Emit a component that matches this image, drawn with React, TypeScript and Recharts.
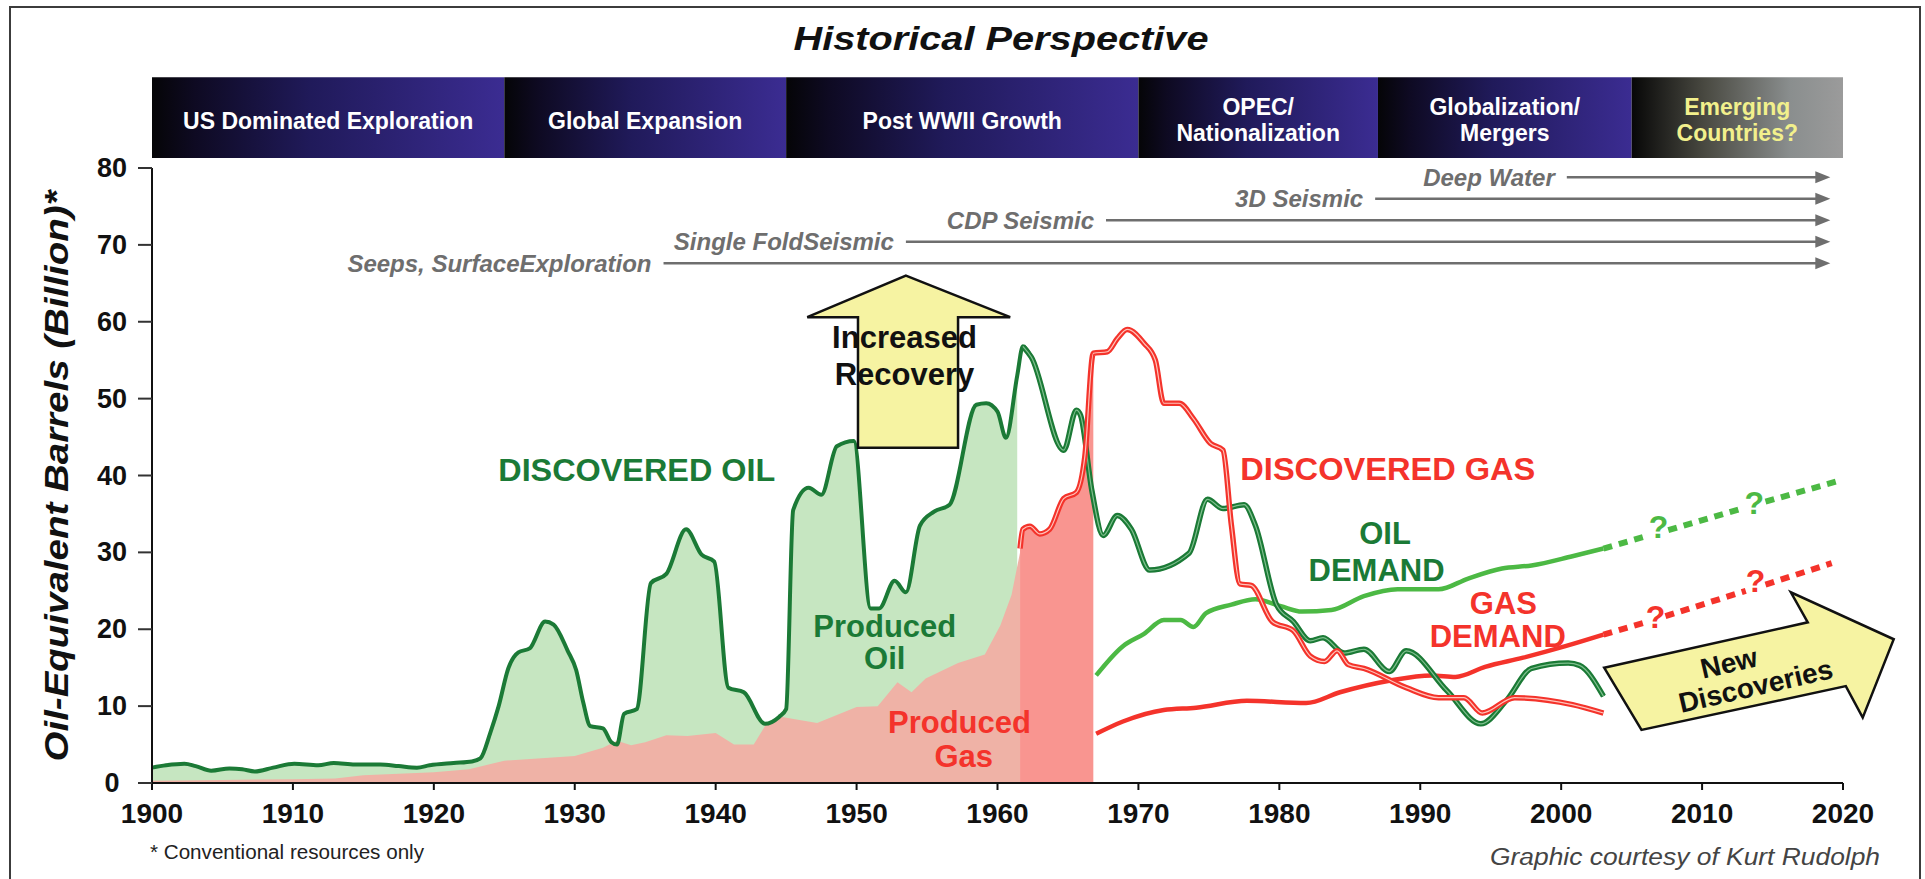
import React from 'react'
import {
  ComposedChart,
  Area,
  Line,
  XAxis,
  YAxis,
  ReferenceArea,
  ReferenceLine,
  ReferenceDot,
} from 'recharts'

type Pt = [number, number | null]

// billion barrels oil-equivalent
const discoveredOil: Pt[] = [
  [1900, 2.0], [1901, 2.3], [1902.3, 2.5], [1903.1, 2.2], [1904.2, 1.6], [1905.5, 1.9],
  [1906.4, 1.8], [1907.3, 1.5], [1908.6, 2.0], [1910.1, 2.5], [1911.8, 2.3], [1912.9, 2.6],
  [1914.4, 2.4], [1916.2, 2.4], [1917.5, 2.2], [1918.8, 2.0], [1919.7, 2.3], [1921.4, 2.6],
  [1922.7, 2.8], [1923.3, 3.2], [1924.0, 6.5], [1924.6, 10.0], [1925.3, 15.0], [1926.0, 17.0],
  [1926.8, 17.5], [1927.9, 21.0], [1928.5, 20.6], [1929.5, 17.2], [1930.1, 14.7], [1930.6, 10.5],
  [1931.1, 7.4], [1932.0, 7.1], [1932.6, 5.3], [1933.0, 5.0], [1933.5, 9.0], [1934.4, 9.6],
  [1935.4, 26.0], [1936.5, 27.2], [1937.9, 33.0], [1939.0, 29.7], [1939.9, 28.8], [1940.9, 12.4],
  [1942.0, 11.8], [1943.5, 7.7], [1944.5, 8.6], [1945.0, 9.6], [1945.5, 35.5], [1946.6, 38.4],
  [1947.5, 37.5], [1948.6, 43.8], [1949.8, 44.5], [1951.0, 22.7], [1951.6, 22.7], [1952.7, 26.3],
  [1953.5, 24.8], [1954.5, 33.5], [1955.5, 35.3], [1956.6, 36.2], [1958.5, 49.2], [1959.2, 49.4],
  [1960.0, 48.3], [1960.6, 44.9], [1961.4, 53.0], [1961.8, 56.8], [1962.4, 55.4], [1964.7, 43.3],
  [1965.6, 48.5], [1965.9, 47.8], [1966.7, 38.0], [1967.5, 32.2], [1968.5, 34.8], [1969.5, 33.0],
  [1970.8, 27.7], [1973.6, 29.9], [1974.9, 36.9], [1976.0, 35.7], [1977.5, 36.2], [1978.3, 33.5],
  [1979.8, 23.2], [1981.0, 21.0], [1982.2, 18.5], [1983.1, 18.9], [1984.6, 16.9], [1986.0, 17.4],
  [1987.8, 14.5], [1989.0, 17.2], [1991.9, 12.0], [1994.3, 7.7], [1996.1, 10.7], [1997.9, 14.9],
  [2000.5, 15.6], [2001.3, 15.3], [2003.0, 11.3],
]

const producedGas: Pt[] = [
  [1900, 0.3], [1905, 0.4], [1910, 0.5], [1913, 0.6], [1915, 1.0], [1920, 1.4], [1922.5, 1.8],
  [1925, 2.9], [1930, 3.5], [1932, 4.6], [1933, 5.5], [1934, 4.9], [1935, 5.3], [1936.5, 6.2],
  [1938, 6.1], [1940, 6.5], [1941.3, 5.0], [1942.7, 5.0], [1943.6, 7.7], [1944.7, 8.6],
  [1947.2, 7.8], [1950, 9.9], [1951.5, 10.0], [1952.9, 13.1], [1953.9, 11.8], [1954.9, 13.6],
  [1957.2, 15.6], [1959.1, 16.7], [1960.2, 20.5], [1961.0, 24.5], [1961.6, 30.0],
]

const discoveredGas: Pt[] = [
  [1961.6, 30.5], [1961.8, 33.0], [1962.3, 33.4], [1963.0, 32.4], [1963.7, 33.0], [1964.7, 37.0],
  [1965.6, 37.8], [1966.2, 42.5], [1966.8, 55.9], [1967.8, 56.1], [1968.5, 57.8], [1969.2, 59.0],
  [1970.4, 57.2], [1971.2, 55.0], [1971.8, 49.4], [1972.9, 49.4], [1973.9, 47.4], [1975.1, 44.2],
  [1976.0, 43.3], [1976.6, 33.5], [1977.2, 25.9], [1978.0, 25.7], [1979.5, 21.0], [1981.0, 19.8],
  [1982.2, 16.5], [1983.2, 15.8], [1984.1, 17.2], [1984.9, 15.4], [1986.0, 14.9], [1989.0, 12.4],
  [1991.3, 11.1], [1993.1, 11.1], [1994.4, 9.1], [1996.7, 11.1], [2000.8, 10.2], [2003.0, 9.1],
]

const oilDemand: Pt[] = [
  [1967.0, 14.0], [1968.9, 17.8], [1970.4, 19.4], [1971.8, 21.2], [1973.0, 21.2], [1973.9, 20.3],
  [1974.8, 22.1], [1976.6, 23.2], [1978.3, 23.9], [1980.1, 23.0], [1981.6, 22.3], [1983.7, 22.5],
  [1986.0, 24.3], [1988.4, 25.2], [1991.3, 25.2], [1993.4, 26.6], [1995.8, 27.9], [1997.9, 28.3],
  [2000.8, 29.5], [2003.0, 30.5],
]

const gasDemand: Pt[] = [
  [1967.0, 6.4], [1968.9, 8.0], [1971.8, 9.5], [1974.1, 9.8], [1977.7, 10.7], [1981.9, 10.4],
  [1984.3, 11.8], [1987.8, 13.3], [1990.8, 14.0], [1992.5, 13.8], [1994.6, 15.1], [1997.3, 16.3],
  [2000.3, 17.8], [2003.0, 19.3],
]

// dotted outlook, broken where the question marks sit
const oilOutlook: Pt[] = [
  [2003.0, 30.5], [2006.2, 32.2], [2006.9, null], [2007.6, 32.9], [2013.0, 35.8],
  [2013.7, null], [2014.5, 36.6], [2019.5, 39.2],
]
const gasOutlook: Pt[] = [
  [2003.0, 19.3], [2006.0, 20.9], [2006.7, null], [2007.4, 21.7], [2013.1, 25.0],
  [2013.8, null], [2014.5, 25.8], [2019.2, 28.6],
]
const oilQuestions: Pt[] = [[2006.9, 33.3], [2013.7, 36.4]]
const gasQuestions: Pt[] = [[2006.7, 21.6], [2013.8, 26.3]]

const yearTicks = [1900, 1910, 1920, 1930, 1940, 1950, 1960, 1970, 1980, 1990, 2000, 2010, 2020]
const valueTicks = [0, 10, 20, 30, 40, 50, 60, 70, 80]

const eraNames = [
  ['US Dominated Exploration'],
  ['Global Expansion'],
  ['Post WWII Growth'],
  ['OPEC/', 'Nationalization'],
  ['Globalization/', 'Mergers'],
  ['Emerging', 'Countries?'],
]
const eraStarts = [1900, 1925, 1945, 1970, 1987, 2005]
const eraEnds = [1925, 1945, 1970, 1987, 2005, 2020]

const techNames = ['Seeps, SurfaceExploration', 'Single FoldSeismic', 'CDP Seismic', '3D Seismic', 'Deep Water']
const techStarts = [1936.3, 1953.5, 1967.7, 1986.8, 2000.4]

const FONT = '"Liberation Sans", Arial, Helvetica, sans-serif'
const DARK_GREEN = '#1b7a36'
const LIGHT_GREEN = '#4cb944'
const RED = '#f4332b'
const YELLOW = '#f6f3a2'

// plot box: 1691 px for 120 years, 615 px for 80 units
const PX_YEAR = 1691 / 120
const PX_UNIT = 615 / 80

const rows = (pts: Pt[]) => pts.map(([year, v]) => ({ year, v }))

const recoveryArrow: Pt[] = [
  [1953.5, 66.0], [1960.9, 60.6], [1957.2, 60.6], [1957.2, 43.6],
  [1950.1, 43.6], [1950.1, 60.6], [1946.5, 60.6],
]
const discoveriesArrow: Pt[] = [
  [2003.05, 15.0], [2017.5, 20.9], [2016.3, 24.8], [2023.6, 18.7],
  [2021.4, 8.5], [2020.2, 12.6], [2005.7, 6.9],
]

const polygonAt = (key: string, pts: Pt[]) => {
  const [ax, ay] = pts[0] as [number, number]
  return (
    <ReferenceDot
      key={key}
      x={ax}
      y={ay}
      r={0}
      ifOverflow="visible"
      shape={(p: any) => (
        <polygon
          points={pts
            .map(([x, y]) => `${p.cx + (x - ax) * PX_YEAR},${p.cy - ((y as number) - ay) * PX_UNIT}`)
            .join(' ')}
          fill={YELLOW}
          stroke="#111"
          strokeWidth={2.5}
        />
      )}
    />
  )
}

interface NoteStyle {
  size: number
  color: string
  italic?: boolean
  anchor?: 'start' | 'middle' | 'end'
  dx?: number
  rotate?: number
  len?: number
}

const note = (key: string, x: number, y: number, text: string, s: NoteStyle) => (
  <ReferenceDot
    key={key}
    x={x}
    y={y}
    r={0}
    ifOverflow="visible"
    shape={(p: any) => (
      <text
        x={p.cx + (s.dx ?? 0)}
        y={p.cy}
        textAnchor={s.anchor ?? 'middle'}
        dominantBaseline="central"
        fontFamily={FONT}
        fontSize={s.size}
        fontWeight="bold"
        fontStyle={s.italic ? 'italic' : 'normal'}
        fill={s.color}
        textLength={s.len}
        lengthAdjust={s.len ? 'spacingAndGlyphs' : undefined}
        transform={s.rotate ? `rotate(${s.rotate} ${p.cx} ${p.cy})` : undefined}
      >
        {text}
      </text>
    )}
  />
)

const arrowHead = (key: string, x: number, y: number) => (
  <ReferenceDot
    key={key}
    x={x}
    y={y}
    r={0}
    ifOverflow="visible"
    shape={(p: any) => (
      <polygon
        points={`${p.cx - 15},${p.cy - 6} ${p.cx},${p.cy} ${p.cx - 15},${p.cy + 6}`}
        fill="#6e6e6e"
      />
    )}
  />
)

const YearTick = (p: any) => (
  <text x={p.x} y={p.y + 31} textAnchor="middle" fontFamily={FONT} fontSize={28} fontWeight="bold" fill="#111">
    {p.payload.value}
  </text>
)

const ValueTick = (p: any) => (
  <text x={p.x - 24} y={p.y + 9} textAnchor="middle" fontFamily={FONT} fontSize={27} fontWeight="bold" fill="#111">
    {p.payload.value}
  </text>
)

export default function App() {
  const oilFill = rows(discoveredOil.filter(([y]) => y <= 1961.4))
  const gasFill = rows(discoveredGas.filter(([y]) => y <= 1966.8))
  const oilLate = rows(discoveredOil.filter(([y]) => y >= 1961.8))

  return (
    <div style={{ position: 'relative', width: 1925, height: 879, overflow: 'hidden', background: '#fff' }}>
      <style>{'body{margin:0;overflow:hidden}'}</style>
      <div
        style={{
          position: 'absolute',
          left: 9,
          top: 6,
          width: 1908,
          height: 1000,
          border: '2px solid #3c3c3c',
        }}
      />
      <div style={{ position: 'absolute', left: 0, top: 0 }}>
        <ComposedChart width={1925} height={879} margin={{ top: 168, right: 82, bottom: 56, left: 92 }}>
          <defs>
            <linearGradient id="eraPurple" x1="0" y1="0" x2="1" y2="0">
              <stop offset="0%" stopColor="#050507" />
              <stop offset="12%" stopColor="#0e0a22" />
              <stop offset="45%" stopColor="#201a5a" />
              <stop offset="100%" stopColor="#3b2c92" />
            </linearGradient>
            <linearGradient id="eraGrey" x1="0" y1="0" x2="1" y2="0">
              <stop offset="0%" stopColor="#070707" />
              <stop offset="35%" stopColor="#4a4a42" />
              <stop offset="75%" stopColor="#8a8e8e" />
              <stop offset="100%" stopColor="#9b9b9b" />
            </linearGradient>
          </defs>

          <XAxis
            type="number"
            dataKey="year"
            domain={[1900, 2020]}
            ticks={yearTicks}
            interval={0}
            height={40}
            tickSize={7}
            tick={<YearTick />}
            axisLine={{ stroke: '#111', strokeWidth: 2 }}
            tickLine={{ stroke: '#111', strokeWidth: 2 }}
          />
          <YAxis
            type="number"
            domain={[0, 80]}
            ticks={valueTicks}
            interval={0}
            width={60}
            tickSize={14}
            tick={<ValueTick />}
            axisLine={{ stroke: '#111', strokeWidth: 2 }}
            tickLine={{ stroke: '#333', strokeWidth: 2 }}
          />

          {eraStarts.map((from, i) => (
            <ReferenceArea
              key={`era${i}`}
              x1={from}
              x2={eraEnds[i]}
              y1={81.3}
              y2={91.8}
              ifOverflow="visible"
              fill={i === 5 ? 'url(#eraGrey)' : 'url(#eraPurple)'}
              fillOpacity={1}
              stroke="none"
            />
          ))}

          <Area data={oilFill} dataKey="v" type="monotone" stroke="none" fill="#c6e6c1" fillOpacity={1} isAnimationActive={false} />
          <Area data={rows(producedGas)} dataKey="v" type="linear" stroke="none" fill="#efb2a6" fillOpacity={1} isAnimationActive={false} />
          <Area data={gasFill} dataKey="v" type="monotone" stroke="none" fill="#f99590" fillOpacity={1} isAnimationActive={false} />

          <Line data={rows(oilDemand)} dataKey="v" type="monotone" stroke={LIGHT_GREEN} strokeWidth={4.5} dot={false} isAnimationActive={false} />
          <Line data={rows(gasDemand)} dataKey="v" type="monotone" stroke={RED} strokeWidth={4.5} dot={false} isAnimationActive={false} />
          <Line data={rows(oilOutlook)} dataKey="v" type="linear" stroke={LIGHT_GREEN} strokeWidth={6} strokeDasharray="9 7" dot={false} isAnimationActive={false} />
          <Line data={rows(gasOutlook)} dataKey="v" type="linear" stroke={RED} strokeWidth={6} strokeDasharray="9 7" dot={false} isAnimationActive={false} />

          <Line data={rows(discoveredOil)} dataKey="v" type="monotone" stroke={DARK_GREEN} strokeWidth={4} dot={false} isAnimationActive={false} />
          <Line data={oilLate} dataKey="v" type="monotone" stroke={DARK_GREEN} strokeWidth={5.5} dot={false} isAnimationActive={false} />
          <Line data={oilLate} dataKey="v" type="monotone" stroke="#7fc08e" strokeWidth={1.2} dot={false} isAnimationActive={false} />
          <Line data={rows(discoveredGas)} dataKey="v" type="monotone" stroke={RED} strokeWidth={5.5} dot={false} isAnimationActive={false} />
          <Line data={rows(discoveredGas)} dataKey="v" type="monotone" stroke="#ffc4bb" strokeWidth={1.2} dot={false} isAnimationActive={false} />

          {techStarts.map((from, i) => (
            <ReferenceLine
              key={`tech${i}`}
              segment={[{ x: from, y: 67.6 + i * 2.8 }, { x: 2018.2, y: 67.6 + i * 2.8 }]}
              stroke="#6e6e6e"
              strokeWidth={2.5}
              ifOverflow="visible"
            />
          ))}
          {techStarts.map((_, i) => arrowHead(`head${i}`, 2019.1, 67.6 + i * 2.8))}
          {techStarts.map((from, i) =>
            note(`techLabel${i}`, from, 67.6 + i * 2.8, techNames[i], {
              size: 24,
              color: '#6e6e6e',
              italic: true,
              anchor: 'end',
              dx: -12,
            }),
          )}

          {eraStarts.map((from, i) => {
            const names = eraNames[i]
            const mid = (from + eraEnds[i]) / 2
            const color = i === 5 ? '#f2f08c' : '#ffffff'
            return names.length === 1
              ? note(`eraLabel${i}`, mid, 86.1, names[0], { size: 23, color })
              : names.map((n, j) =>
                  note(`eraLabel${i}_${j}`, mid, 87.9 - j * 3.4, n, { size: 23, color }),
                )
          })}

          {polygonAt('recovery', recoveryArrow)}
          {polygonAt('discoveries', discoveriesArrow)}

          {note('incr', 1953.4, 57.9, 'Increased', { size: 31, color: '#111' })}
          {note('reco', 1953.4, 53.2, 'Recovery', { size: 31, color: '#111' })}
          {note('newd', 2011.9, 15.6, 'New', { size: 28, color: '#111', rotate: -13 })}
          {note('disc', 2013.8, 12.6, 'Discoveries', { size: 28, color: '#111', rotate: -13 })}

          {note('dOil', 1934.4, 40.7, 'DISCOVERED OIL', { size: 31, color: DARK_GREEN, len: 277 })}
          {note('pOil1', 1952.0, 20.4, 'Produced', { size: 31, color: DARK_GREEN })}
          {note('pOil2', 1952.0, 16.2, 'Oil', { size: 31, color: DARK_GREEN })}
          {note('pGas1', 1957.3, 7.9, 'Produced', { size: 31, color: RED })}
          {note('pGas2', 1957.6, 3.5, 'Gas', { size: 31, color: RED })}
          {note('dGas', 1987.7, 40.8, 'DISCOVERED GAS', { size: 31, color: RED, len: 295 })}
          {note('oD1', 1987.5, 32.4, 'OIL', { size: 31, color: DARK_GREEN })}
          {note('oD2', 1986.9, 27.7, 'DEMAND', { size: 31, color: DARK_GREEN })}
          {note('gD1', 1995.9, 23.4, 'GAS', { size: 31, color: RED })}
          {note('gD2', 1995.5, 19.1, 'DEMAND', { size: 31, color: RED })}

          {oilQuestions.map(([x, y], i) => note(`oq${i}`, x, y as number, '?', { size: 32, color: LIGHT_GREEN }))}
          {gasQuestions.map(([x, y], i) => note(`gq${i}`, x, y as number, '?', { size: 32, color: RED }))}
        </ComposedChart>
      </div>

      <svg width={1925} height={879} style={{ position: 'absolute', left: 0, top: 0, pointerEvents: 'none' }}>
        <text
          x={1001}
          y={50}
          textAnchor="middle"
          fontFamily={FONT}
          fontSize={33}
          fontWeight="bold"
          fontStyle="italic"
          fill="#111"
          textLength={415}
          lengthAdjust="spacingAndGlyphs"
        >
          Historical Perspective
        </text>
        <text
          x={68}
          y={476}
          transform="rotate(-90 68 476)"
          textAnchor="middle"
          fontFamily={FONT}
          fontSize={33}
          fontWeight="bold"
          fontStyle="italic"
          fill="#111"
          textLength={571}
          lengthAdjust="spacingAndGlyphs"
        >
          Oil-Equivalent Barrels (Billion)*
        </text>
        <text x={150} y={859} fontFamily={FONT} fontSize={20} fill="#222" textLength={274} lengthAdjust="spacingAndGlyphs">
          * Conventional resources only
        </text>
        <text
          x={1880}
          y={865}
          textAnchor="end"
          fontFamily={FONT}
          fontSize={23}
          fontStyle="italic"
          fill="#444"
          textLength={390}
          lengthAdjust="spacingAndGlyphs"
        >
          Graphic courtesy of Kurt Rudolph
        </text>
      </svg>
    </div>
  )
}
